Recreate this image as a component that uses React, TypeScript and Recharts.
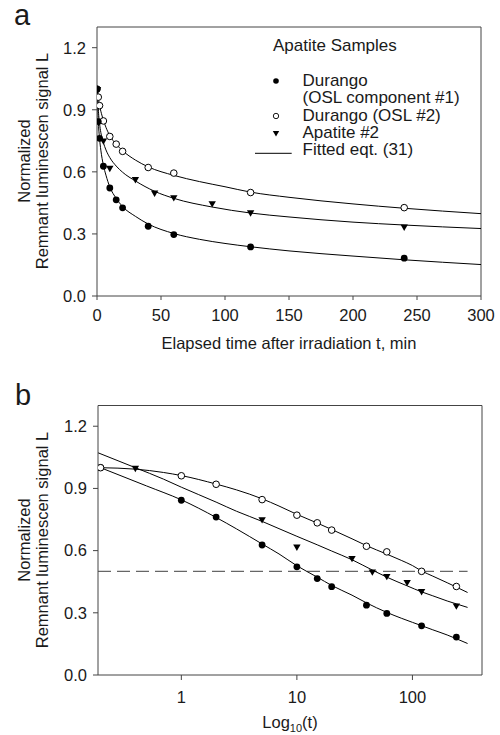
import React from 'react';
import { ComposedChart, Line, Scatter, XAxis, YAxis, ReferenceLine } from 'recharts';

const FONT = '"Liberation Sans", Arial, Helvetica, sans-serif';
const TEXT = '#1a1a1a';
const AXIS = '#444';

// Measured data (normalized remnant luminescence signal L vs elapsed time t, min)
const durango1Times = [0, 1, 2, 5, 10, 15, 20, 40, 60, 120, 240];
const durango1L = [1.0, 0.843, 0.762, 0.627, 0.522, 0.465, 0.426, 0.337, 0.297, 0.237, 0.183];

const durango2Times = [0, 1, 2, 5, 10, 15, 20, 40, 60, 120, 240];
const durango2L = [1.0, 0.961, 0.92, 0.846, 0.771, 0.734, 0.699, 0.621, 0.594, 0.5, 0.427];

const apatite2Times = [0.4, 5, 10, 30, 45, 60, 90, 120, 240];
const apatite2L = [0.995, 0.747, 0.615, 0.56, 0.495, 0.473, 0.444, 0.4, 0.331];

// Fitted eqt. (31) curves
const fitD1Times = [0, 0.2, 0.5, 1, 2, 3, 5, 7, 10, 15, 20, 30, 40, 60, 80, 100, 120, 150, 200, 240, 300];
const fitD1L = [1.0, 1.0, 0.912, 0.845, 0.76, 0.705, 0.632, 0.584, 0.527, 0.472, 0.432, 0.385, 0.348, 0.302, 0.274, 0.254, 0.238, 0.218, 0.193, 0.175, 0.152];

const fitD2Times = [0, 0.2, 0.4, 0.7, 1, 2, 3, 5, 7, 10, 15, 20, 30, 40, 60, 80, 100, 120, 150, 200, 240, 300];
const fitD2L = [1.0, 1.0, 0.993, 0.977, 0.962, 0.921, 0.893, 0.85, 0.815, 0.775, 0.733, 0.702, 0.657, 0.624, 0.583, 0.553, 0.528, 0.502, 0.477, 0.445, 0.424, 0.398];

const fitA2Times = [0, 0.19, 0.4, 0.7, 1, 2, 3, 5, 7, 10, 15, 20, 30, 45, 60, 90, 120, 150, 200, 240, 300];
const fitA2L = [1.0, 1.072, 1.0, 0.945, 0.906, 0.834, 0.79, 0.741, 0.706, 0.669, 0.628, 0.598, 0.556, 0.506, 0.472, 0.43, 0.401, 0.382, 0.357, 0.343, 0.326];

const xTicksA = [0, 50, 100, 150, 200, 250, 300];
const xTicksB = [1, 10, 100];
const yTicks = [0, 0.3, 0.6, 0.9, 1.2];
const halfLevel = 0.5;

const LOG_ZERO_T = 0.2; // t = 0 is drawn at 0.2 on the log axis

type Pt = { t: number; L: number };
const toPoints = (ts: number[], ls: number[]): Pt[] => ts.map((t, i) => ({ t, L: ls[i] }));

const d1 = toPoints(durango1Times, durango1L);
const d2 = toPoints(durango2Times, durango2L);
const a2 = toPoints(apatite2Times, apatite2L);
const f1 = toPoints(fitD1Times, fitD1L);
const f2 = toPoints(fitD2Times, fitD2L);
const f3 = toPoints(fitA2Times, fitA2L);

const logPts = (p: Pt[]) => p.map((q) => ({ ...q, t: q.t === 0 ? LOG_ZERO_T : q.t }));
const fitLin = (p: Pt[]) => p.filter((q) => q.L <= 1.0);
const fitLog = (p: Pt[]) => p.filter((q) => q.t > 0);

const FilledDot = (props: any) =>
  props.cx == null ? null : <circle cx={props.cx} cy={props.cy} r={3.4} fill="#000" />;
const OpenDot = (props: any) =>
  props.cx == null ? null : (
    <circle cx={props.cx} cy={props.cy} r={3.3} fill="#fff" stroke="#000" strokeWidth={1} />
  );
const TriDown = (props: any) => {
  if (props.cx == null) return null;
  const { cx, cy } = props;
  return <polygon points={`${cx - 3.7},${cy - 3} ${cx + 3.7},${cy - 3} ${cx},${cy + 3.4}`} fill="#000" />;
};

const tickStyle = { fontSize: 16.5, fill: TEXT, fontFamily: FONT };
const fmtY = (v: number) => v.toFixed(1);

function PanelA() {
  return (
    <ComposedChart
      width={500}
      height={370}
      margin={{ top: 27, right: 19, bottom: 0, left: 0 }}
      style={{ position: 'absolute', left: 0, top: 0 }}
    >
      <XAxis
        dataKey="t"
        type="number"
        domain={[0, 300]}
        ticks={xTicksA}
        height={74}
        tick={tickStyle}
        tickSize={4}
        tickMargin={9}
        stroke={AXIS}
        allowDataOverflow
      />
      <YAxis
        type="number"
        domain={[0, 1.3]}
        ticks={yTicks}
        tickFormatter={fmtY}
        width={97}
        tick={tickStyle}
        tickSize={5}
        tickMargin={6}
        stroke={AXIS}
        allowDataOverflow
      />
      <ReferenceLine y={1.3} stroke={AXIS} />
      <ReferenceLine x={300} stroke={AXIS} />
      <Line data={fitLin(f2)} dataKey="L" type="monotone" dot={false} stroke="#000" strokeWidth={1} isAnimationActive={false} />
      <Line data={fitLin(f3)} dataKey="L" type="monotone" dot={false} stroke="#000" strokeWidth={1} isAnimationActive={false} />
      <Line data={fitLin(f1)} dataKey="L" type="monotone" dot={false} stroke="#000" strokeWidth={1} isAnimationActive={false} />
      <Scatter data={d2} dataKey="L" shape={OpenDot} isAnimationActive={false} />
      <Scatter data={a2} dataKey="L" shape={TriDown} isAnimationActive={false} />
      <Scatter data={d1} dataKey="L" shape={FilledDot} isAnimationActive={false} />
    </ComposedChart>
  );
}

function PanelB() {
  return (
    <ComposedChart
      width={500}
      height={355}
      margin={{ top: 25.5, right: 18, bottom: 0, left: 0 }}
      style={{ position: 'absolute', left: 0, top: 380 }}
    >
      <XAxis
        dataKey="t"
        type="number"
        scale="log"
        domain={[0.19, 400]}
        ticks={xTicksB}
        height={60}
        tick={tickStyle}
        tickSize={5}
        tickMargin={11}
        stroke={AXIS}
        allowDataOverflow
      />
      <YAxis
        type="number"
        domain={[0, 1.3]}
        ticks={yTicks}
        tickFormatter={fmtY}
        width={98}
        tick={tickStyle}
        tickSize={5}
        tickMargin={6}
        stroke={AXIS}
        allowDataOverflow
      />
      <ReferenceLine y={1.3} stroke={AXIS} />
      <ReferenceLine x={400} stroke={AXIS} />
      <ReferenceLine
        segment={[{ x: 0.19, y: halfLevel }, { x: 300, y: halfLevel }]}
        stroke="#666"
        strokeWidth={1.3}
        strokeDasharray="13 6"
      />
      <Line data={fitLog(f1)} dataKey="L" type="monotone" dot={false} stroke="#000" strokeWidth={1} isAnimationActive={false} />
      <Line data={fitLog(f3)} dataKey="L" type="monotone" dot={false} stroke="#000" strokeWidth={1} isAnimationActive={false} />
      <Line data={fitLog(f2)} dataKey="L" type="monotone" dot={false} stroke="#000" strokeWidth={1} isAnimationActive={false} />
      <Scatter data={logPts(d1)} dataKey="L" shape={FilledDot} isAnimationActive={false} />
      <Scatter data={logPts(a2)} dataKey="L" shape={TriDown} isAnimationActive={false} />
      <Scatter data={logPts(d2)} dataKey="L" shape={OpenDot} isAnimationActive={false} />
    </ComposedChart>
  );
}

function Overlay() {
  const t = { fill: TEXT, fontFamily: FONT };
  return (
    <svg
      width={500}
      height={735}
      style={{ position: 'absolute', left: 0, top: 0, pointerEvents: 'none' }}
    >
      <text x={14} y={25} fontSize={29} {...t}>a</text>
      <text x={15} y={405} fontSize={29} {...t}>b</text>

      {/* Panel a y label */}
      <text transform="translate(30,161) rotate(-90)" textAnchor="middle" fontSize={16.5} {...t}>Normalized</text>
      <text transform="translate(48,161) rotate(-90)" textAnchor="middle" fontSize={16.5} {...t}>Remnant luminescen signal L</text>
      {/* Panel b y label */}
      <text transform="translate(30,540) rotate(-90)" textAnchor="middle" fontSize={16.5} {...t}>Normalized</text>
      <text transform="translate(48,540) rotate(-90)" textAnchor="middle" fontSize={16.5} {...t}>Remnant luminescen signal L</text>

      <text x={289} y={349} textAnchor="middle" fontSize={16.5} {...t}>Elapsed time after irradiation t, min</text>
      <text x={290} y={728} textAnchor="middle" fontSize={16.5} {...t}>
        Log<tspan fontSize={11} dy={3.5}>10</tspan><tspan dy={-3.5}>(t)</tspan>
      </text>

      {/* Legend */}
      <text x={273} y={51} fontSize={17} {...t}>Apatite Samples</text>
      <circle cx={276} cy={81} r={2.8} fill="#000" />
      <text x={302.5} y={86} fontSize={17} {...t}>Durango</text>
      <text x={302.5} y={103.3} fontSize={17} {...t}>(OSL component #1)</text>
      <circle cx={276} cy={116} r={2.7} fill="#fff" stroke="#000" strokeWidth={0.9} />
      <text x={302.5} y={120.7} fontSize={17} {...t}>Durango (OSL #2)</text>
      <polygon points="272.8,131 279.2,131 276,136.5" fill="#000" />
      <text x={302.5} y={138} fontSize={17} {...t}>Apatite #2</text>
      <line x1={255} y1={153.3} x2={291.7} y2={153.3} stroke="#000" strokeWidth={1} />
      <text x={302.5} y={155.3} fontSize={17} {...t}>Fitted eqt. (31)</text>
    </svg>
  );
}

export default function App() {
  return (
    <div style={{ position: 'absolute', left: 0, top: 0, width: 500, height: 735, background: '#fff', fontFamily: FONT }}>
      <PanelA />
      <PanelB />
      <Overlay />
    </div>
  );
}
